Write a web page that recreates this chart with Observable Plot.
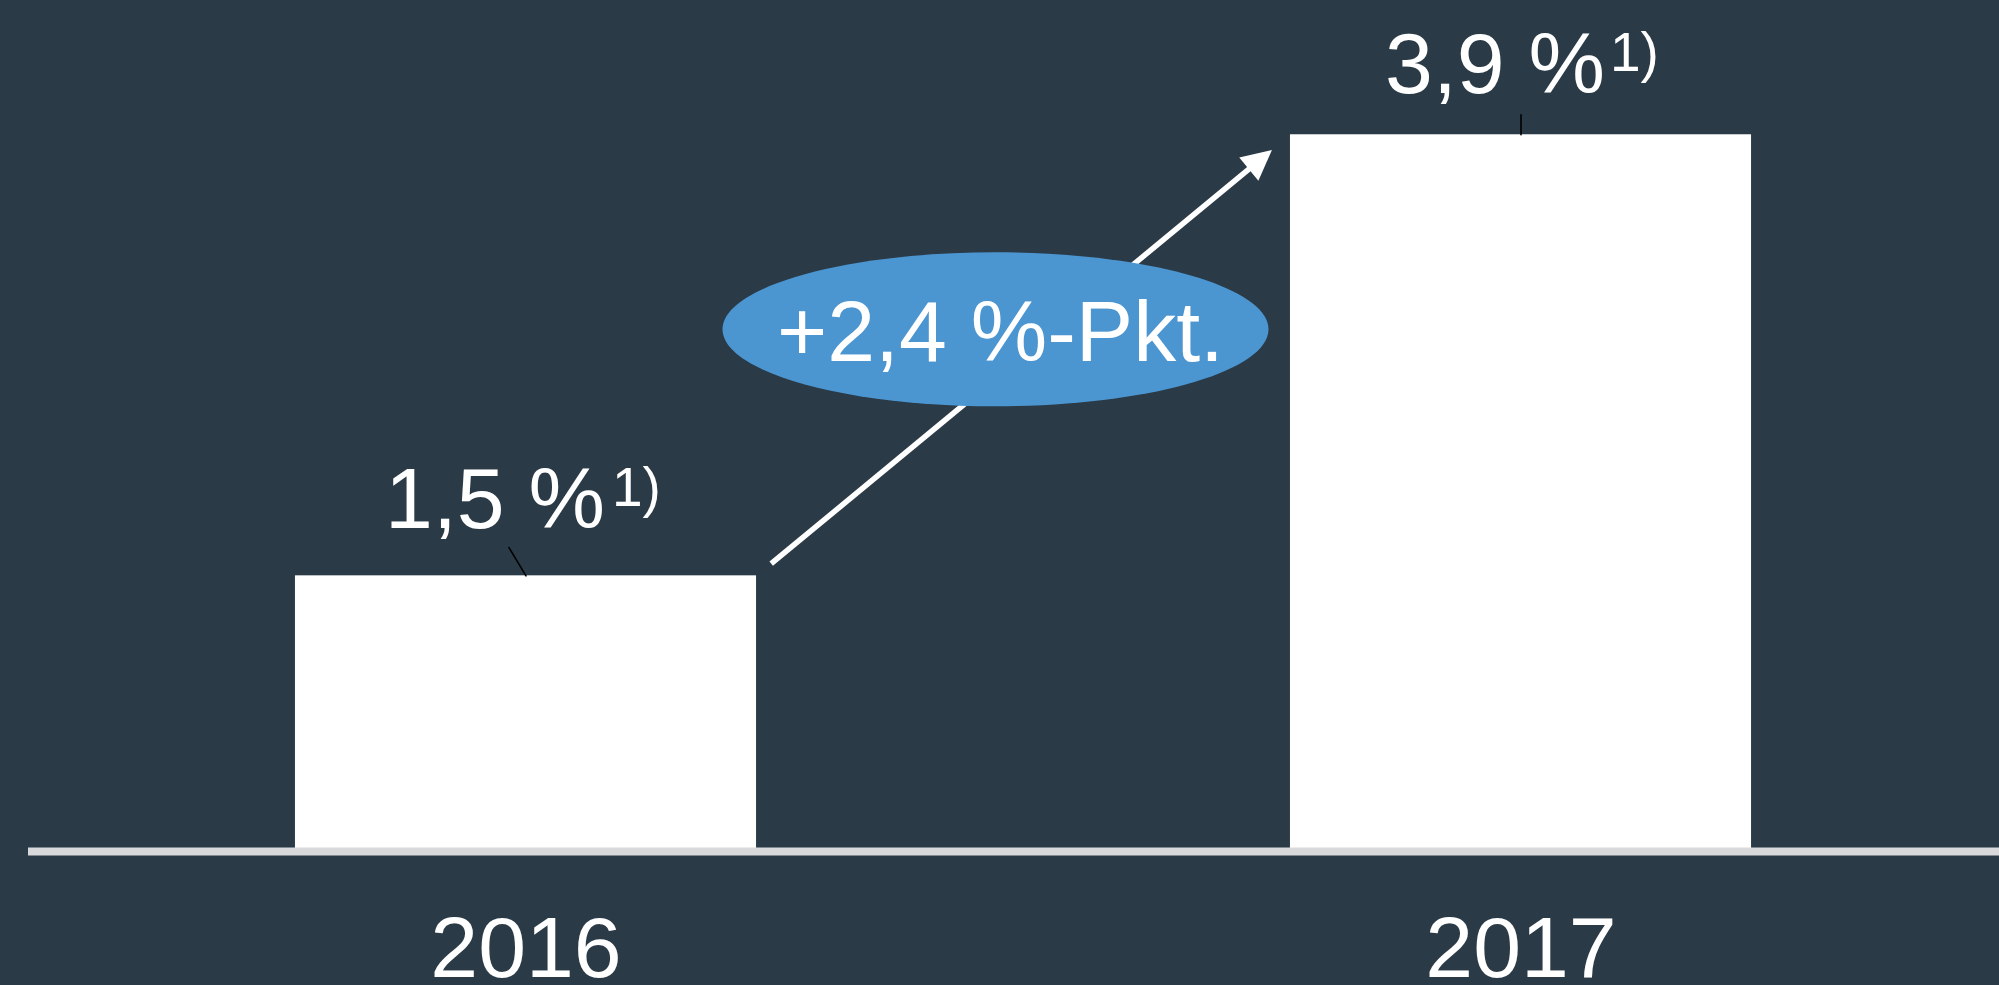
<!DOCTYPE html>
<html><head><meta charset="utf-8">
<script src="https://cdn.jsdelivr.net/npm/d3@7"></script>
<script src="https://cdn.jsdelivr.net/npm/@observablehq/plot@0.6"></script>
<style>html,body{margin:0;padding:0;background:#2a3a46;overflow:hidden}</style>
</head><body><div id="chart"></div>
<script>
// ---- data ----
const years = [2016, 2017];
const values = [1.5, 3.9];
const unit = "%";
const footnote = "1)";
const deltaUnit = "%-Pkt.";

// ---- helpers / layout ----
const fmt = v => v.toFixed(1).replace(".", ",");
const data = years.map((year, i) => ({year, value: values[i], i}));
const delta = values[1] - values[0];
const hw = 0.2317; // half bar width in years
const W = 1999, H = 985;
const FONT = "'Liberation Sans', Arial, Helvetica, sans-serif";
const BG = "#2a3a46";
const labelLayout = [
  {dx: 79, dy: -48, sdx: 86, leadLen: 33, leadRot: -31},
  {dx: 84, dy: -42, sdx: 89, leadLen: 20, leadRot: 0}
];

function options(marks) {
  return {
    width: W, height: H,
    marginLeft: 28, marginRight: 0, marginTop: 24, marginBottom: 134,
    x: {domain: [years[0] - 0.5, years[years.length - 1] + 0.5], range: [28, 2018], axis: null},
    y: {domain: [0, 4.5], axis: null},
    style: {background: BG, color: "white", fontFamily: FONT, overflow: "hidden"},
    marks
  };
}

const bars = Plot.rectY(data, {x1: d => d.year - hw, x2: d => d.year + hw, y: "value", fill: "white"});

// probe pass to read the scales for the arrow direction
const probe = Plot.plot(options([bars]));
const sx = probe.scale("x"), sy = probe.scale("y");
const ax1 = years[0] + hw, ay1 = values[0], ax2 = years[1] - hw, ay2 = values[1];
const pdx = sx.apply(ax2) - sx.apply(ax1), pdy = sy.apply(ay2) - sy.apply(ay1);
const theta = Math.atan2(pdx, -pdy) * 180 / Math.PI;

const lineShape = {draw(ctx, l) { ctx.moveTo(0, 0); ctx.lineTo(0, -l); }};
const headShape = {draw(ctx) { ctx.moveTo(0, -24); ctx.lineTo(15, -54); ctx.lineTo(-15, -54); ctx.closePath(); }};
const ellipseSymbol = {draw(ctx) {
  const rx = 273, ry = 77, k = 0.5523;
  ctx.moveTo(rx, 0);
  ctx.bezierCurveTo(rx, ry * k, rx * k, ry, 0, ry);
  ctx.bezierCurveTo(-rx * k, ry, -rx, ry * k, -rx, 0);
  ctx.bezierCurveTo(-rx, -ry * k, -rx * k, -ry, 0, -ry);
  ctx.bezierCurveTo(rx * k, -ry, rx, -ry * k, rx, 0);
  ctx.closePath();
}};

const marks = [
  bars,
  Plot.ruleY([0], {x1: () => years[0] - 0.5, x2: () => years[years.length - 1] + 0.5, stroke: "#d9d9db", strokeWidth: 8}),
  Plot.arrow([0], {x1: () => ax1, y1: () => ay1, x2: () => ax2, y2: () => ay2,
    stroke: "white", strokeWidth: 5.5, headLength: 0, insetStart: 19, insetEnd: 50, strokeLinecap: "butt"}),
  Plot.vector([0], {x: () => ax2, y: () => ay2, anchor: "start", length: 54, rotate: theta + 180,
    shape: headShape, fill: "white", stroke: "none"}),
  Plot.dot([0], {x: () => d3.mean(years), y: () => d3.mean(values), symbol: ellipseSymbol, r: 10,
    fill: "#4b95d1", stroke: "none", dx: -28, dy: -26}),
  Plot.text([0], {x: () => d3.mean(years), y: () => d3.mean(values), text: () => "+" + fmt(delta) + " " + deltaUnit,
    fill: "white", fontSize: 86, dx: -23, dy: -22, lineAnchor: "middle", textAnchor: "middle"}),
  ...data.flatMap((d, i) => {
    const L = labelLayout[i];
    return [
      Plot.vector([d], {x: "year", y: "value", anchor: "start", length: L.leadLen, rotate: L.leadRot,
        shape: lineShape, stroke: "black", strokeWidth: 1.6}),
      Plot.text([d], {x: "year", y: "value", text: e => fmt(e.value) + " " + unit, fill: "white",
        fontSize: 86, textAnchor: "end", lineAnchor: "bottom", dx: L.dx, dy: L.dy}),
      Plot.text([d], {x: "year", y: "value", text: () => footnote, fill: "white",
        fontSize: 55, textAnchor: "start", lineAnchor: "bottom", dx: L.sdx, dy: L.dy - 22})
    ];
  }),
  Plot.axisX(years, {tickSize: 0, tickPadding: 64, fontSize: 86, tickFormat: d => String(d), fill: "white", label: null})
];

document.getElementById("chart").appendChild(Plot.plot(options(marks)));
</script>
</body></html>
